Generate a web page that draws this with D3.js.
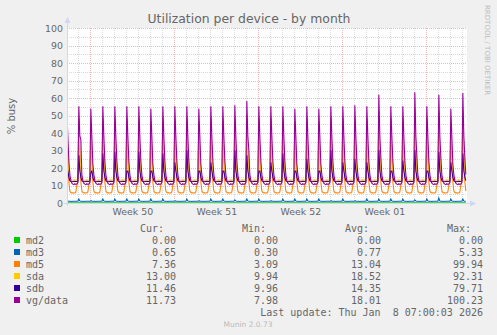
<!DOCTYPE html>
<html>
<head>
<meta charset="utf-8">
<script src="https://cdn.jsdelivr.net/npm/d3@7"></script>
<style>
  body { margin: 0; background: #f0f0f0; }
  text { fill: #666; }
  .mono { font-family: "DejaVu Sans Mono", monospace; font-size: 10px; white-space: pre; }
</style>
</head>
<body>
<script>
// samples per day (hour of day), spike at 01:00 every night
const hours = [1, 3, 5, 7, 9, 11, 13, 15, 17, 19, 21, 23];
const days = d3.timeDay.range(new Date(2025, 11, 6), new Date(2026, 0, 9)); // Dec 6 .. Jan 8
const lastUpdate = new Date(2026, 0, 8, 7, 0, 3);

// per-day peaks
const vgPeak = [53, 55, 53.5, 55, 55, 55, 55, 53.5, 55, 55, 55, 53.5, 55, 55, 55.5, 58, 55, 55, 55, 53.5, 55, 53.5, 55, 55, 55.5, 55, 61.5, 55, 55, 63, 55, 61.5, 53.5, 62.5];
const vgTail = [24, 36, 22, 24, 24, 24, 24, 22, 24, 24, 24, 22, 24, 24, 24, 30, 24, 24, 24, 22, 24, 22, 24, 24, 24, 24, 26, 24, 24, 27, 24, 26, 22, 26];
const sdbPeak = [17, 27, 17, 28, 29, 18, 29, 18, 28, 23, 30, 18, 23, 18, 30, 27, 18, 23, 28, 18, 25, 18, 30, 23, 25, 23, 30, 18, 24, 30, 18, 29, 23, 28];
const md5Peak = [46, 48, 46, 48, 48, 48, 48, 46, 48, 48, 48, 46, 48, 48, 48, 50, 48, 48, 48, 46, 48, 46, 48, 48, 48, 48, 52, 48, 48, 54, 48, 52, 46, 53];
const sdaPeak = [42, 44, 42, 44, 44, 44, 44, 42, 44, 44, 44, 42, 44, 44, 44, 46, 44, 44, 44, 42, 44, 42, 44, 44, 44, 44, 48, 44, 44, 50, 44, 48, 42, 49];
const md3Peak = [1.5, 2, 1, 2, 2, 2, 2, 2, 2, 1, 2, 1, 2, 2, 1.5, 2, 2, 1, 2, 2, 2, 2, 1, 2, 1, 2, 2, 2, 2, 1.5, 2, 2.5, 2, 2];
const md2Peak = days.map(() => 0);

// rest of each day (index 0 is replaced by the day's peak)
const vgShape  = [0, 38, 24, 16, 12.5, 11, 10.5, 10.2, 10.7, 10.3, 10.6, 11.3];
const sdbShape = [0, 18, 14.5, 12.5, 12, 12, 11.9, 12, 12.1, 12, 12, 12.2];
const sdaShape = [0, 30, 18, 14, 13, 12.8, 12.7, 12.8, 12.9, 12.8, 12.8, 13.1];
const md5Shape = [0, 26, 12, 6.5, 5.7, 5.5, 5.5, 5.4, 5.5, 6, 10, 12];
const md3Shape = [0, 0.8, 0.7, 0.7, 0.7, 0.6, 0.7, 0.7, 0.7, 0.7, 0.7, 0.7];
const md2Shape = [0, 0, 0, 0, 0, 0, 0, 0, 0, 0, 0, 0];

const names = ["md2", "md3", "md5", "sda", "sdb", "vg/data"];
const colors = ["#00cc00", "#0066b3", "#ff8000", "#ffcc00", "#330099", "#990099"];
const cur = ["0.00", "0.65", "7.36", "13.00", "11.46", "11.73"];
const min = ["0.00", "0.30", "3.09", "9.94", "9.96", "7.98"];
const avg = ["0.00", "0.77", "13.04", "18.52", "14.35", "18.01"];
const max = ["0.00", "5.33", "99.94", "92.31", "79.71", "100.23"];

const yTicks = [0, 10, 20, 30, 40, 50, 60, 70, 80, 90, 100];
const weekStarts = [new Date(2025, 11, 8), new Date(2025, 11, 15), new Date(2025, 11, 22), new Date(2025, 11, 29)];
const weekLabels = ["Week 50", "Week 51", "Week 52", "Week 01"];

function build(peaks, shape, tails) {
  const pts = [];
  days.forEach((day, i) => {
    hours.forEach((h, j) => {
      const t = new Date(day.getFullYear(), day.getMonth(), day.getDate(), h);
      if (t > lastUpdate) return;
      let v = shape[j];
      if (j === 0) v = peaks[i];
      if (j === 2 && tails) v = tails[i];
      pts.push({ t, v });
    });
  });
  return pts;
}

const series = [
  build(md2Peak, md2Shape),
  build(md3Peak, md3Shape),
  build(md5Peak, md5Shape),
  build(sdaPeak, sdaShape),
  build(sdbPeak, sdbShape),
  build(vgPeak, vgShape, vgTail)
];

const pL = 67, pR = 467, pT = 28, pB = 203;
const x = d3.scaleTime().domain([new Date(2025, 11, 6, 1, 20), new Date(2026, 0, 8, 9, 20)]).range([pL, pR]);
const y = d3.scaleLinear().domain([0, 100]).range([pB, pT]);

const svg = d3.select("body").append("svg").attr("width", 497).attr("height", 335)
  .style("font-family", "'DejaVu Sans', sans-serif");

svg.append("rect").attr("width", 497).attr("height", 335).attr("fill", "#f0f0f0");
svg.append("rect").attr("x", pL).attr("y", pT).attr("width", pR - pL).attr("height", pB - pT).attr("fill", "#fff");

// grid
const minorGrid = "rgba(143,143,143,0.35)";
const majorGrid = "rgba(222,72,72,0.4)";
const days00 = d3.timeDay.range(x.domain()[0], x.domain()[1]).filter(d => d.getDay() !== 1);
const mondays = d3.timeMonday.range(x.domain()[0], x.domain()[1]);

svg.append("g").selectAll("line").data(days00).join("line")
  .attr("x1", d => Math.round(x(d)) + 0.5).attr("x2", d => Math.round(x(d)) + 0.5)
  .attr("y1", pT).attr("y2", pB)
  .attr("stroke", minorGrid).attr("stroke-dasharray", "1,1");

svg.append("g").selectAll("line").data([5, 15, 25, 35, 45, 55, 65, 75, 85, 95]).join("line")
  .attr("x1", pL).attr("x2", pR)
  .attr("y1", d => Math.round(y(d)) + 0.5).attr("y2", d => Math.round(y(d)) + 0.5)
  .attr("stroke", minorGrid).attr("stroke-dasharray", "1,1");

svg.append("g").selectAll("line").data(yTicks.slice(1)).join("line")
  .attr("x1", pL).attr("x2", pR)
  .attr("y1", d => Math.round(y(d)) + 0.5).attr("y2", d => Math.round(y(d)) + 0.5)
  .attr("stroke", majorGrid).attr("stroke-dasharray", "1,1");

svg.append("g").selectAll("line").data(mondays).join("line")
  .attr("x1", d => Math.round(x(d)) + 0.5).attr("x2", d => Math.round(x(d)) + 0.5)
  .attr("y1", pT).attr("y2", pB)
  .attr("stroke", majorGrid).attr("stroke-dasharray", "1,1");

// y labels
const yAxis = svg.append("g").attr("transform", `translate(${pL - 4},0)`)
  .call(d3.axisLeft(y).tickValues(yTicks).tickSize(0).tickPadding(0));
yAxis.select(".domain").remove();
yAxis.selectAll("text").attr("font-size", 9.4).attr("fill", "#666").attr("font-family", "'DejaVu Sans', sans-serif");

// x labels
const xAxis = svg.append("g").attr("transform", `translate(0,${pB + 5})`)
  .call(d3.axisBottom(x).tickValues(weekStarts.map(d => d3.timeHour.offset(d, 84)))
    .tickFormat((d, i) => weekLabels[i]).tickSize(0).tickPadding(0));
xAxis.select(".domain").remove();
xAxis.selectAll("text").attr("font-size", 9.4).attr("fill", "#666").attr("dy", "0.75em").attr("font-family", "'DejaVu Sans', sans-serif");

// lines
svg.append("clipPath").attr("id", "plot").append("rect")
  .attr("x", pL).attr("y", pT - 5).attr("width", pR - pL).attr("height", pB - pT + 5);

const line = d3.line().x(d => x(d.t)).y(d => y(d.v) - 0.5);
svg.append("g").attr("clip-path", "url(#plot)")
  .selectAll("path").data(series).join("path")
  .attr("d", line).attr("fill", "none")
  .attr("stroke", (d, i) => colors[i]).attr("stroke-width", (d, i) => i === 0 ? 0.8 : 1.1);

// axes with arrows (drawn over the lines)
const axisColor = "#cfd6f8";
svg.append("line").attr("x1", pL + 0.5).attr("x2", pL + 0.5).attr("y1", pB + 3).attr("y2", pT - 6)
  .attr("stroke", axisColor);
svg.append("line").attr("x1", pL - 3).attr("x2", pR + 4).attr("y1", pB + 0.5).attr("y2", pB + 0.5)
  .attr("stroke", axisColor);
svg.append("path").attr("d", `M${pL - 2.5},${pT - 5} L${pL + 0.5},${pT - 11} L${pL + 3.5},${pT - 5} Z`).attr("fill", axisColor);
svg.append("path").attr("d", `M${pR + 3},${pB - 2.5} L${pR + 9},${pB + 0.5} L${pR + 3},${pB + 3.5} Z`).attr("fill", axisColor);

// titles
svg.append("text").attr("x", 249).attr("y", 23).attr("text-anchor", "middle")
  .attr("font-size", 12.4).text("Utilization per device - by month");
svg.append("text").attr("transform", "translate(15,116) rotate(-90)").attr("text-anchor", "middle")
  .attr("font-size", 10).text("% busy");
svg.append("text").attr("transform", "translate(485,5) rotate(90)")
  .attr("font-size", 7).style("fill", "#bbb").text("RRDTOOL / TOBI OETIKER");

// legend
const cols = [{ h: "Cur:", end: 176, v: cur }, { h: "Min:", end: 278, v: min },
  { h: "Avg:", end: 381, v: avg }, { h: "Max:", end: 483, v: max }];
const legend = svg.append("g");
cols.forEach(c => {
  legend.append("text").attr("class", "mono").attr("x", c.end - 12).attr("y", 232)
    .attr("text-anchor", "end").text(c.h);
});
names.forEach((n, i) => {
  const yy = 243.5 + i * 12;
  legend.append("rect").attr("x", 14).attr("y", yy - 6.5).attr("width", 6).attr("height", 6).attr("fill", colors[i]);
  legend.append("text").attr("class", "mono").attr("x", 26).attr("y", yy).text(n);
  cols.forEach(c => {
    legend.append("text").attr("class", "mono").attr("x", c.end).attr("y", yy)
      .attr("text-anchor", "end").text(c.v[i]);
  });
});
legend.append("text").attr("class", "mono").attr("x", 483).attr("y", 315.5)
  .attr("text-anchor", "end").text("Last update: Thu Jan  8 07:00:03 2026");
svg.append("text").attr("x", 248).attr("y", 327).attr("text-anchor", "middle")
  .attr("font-size", 7.5).style("fill", "#bbb").text("Munin 2.0.73");
</script>
</body>
</html>
